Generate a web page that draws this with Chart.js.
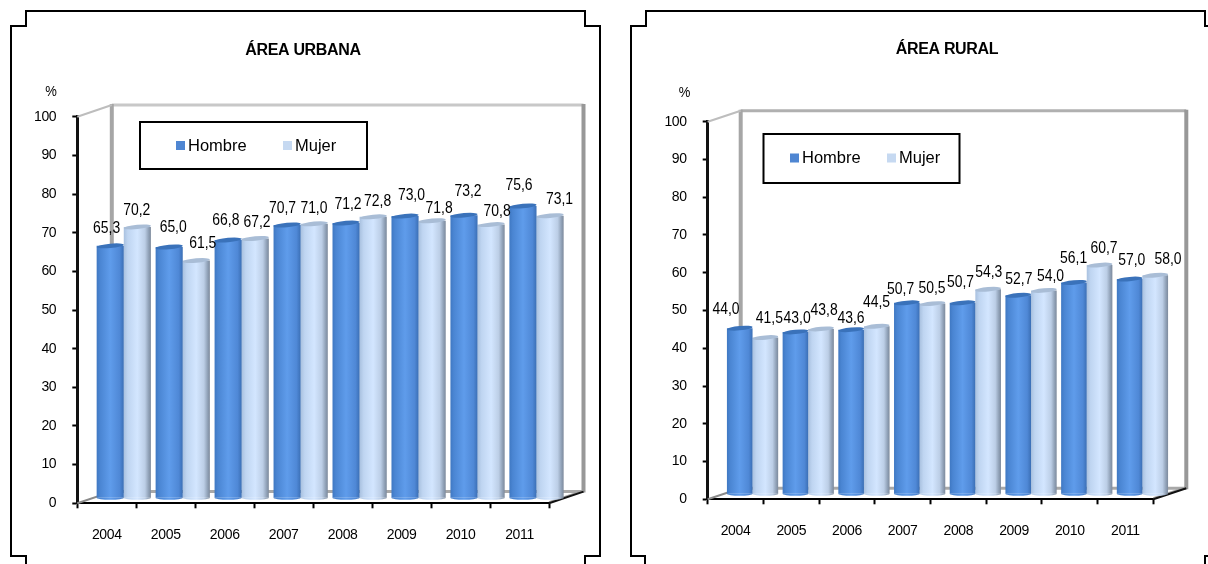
<!DOCTYPE html>
<html>
<head>
<meta charset="utf-8">
<script src="https://cdn.jsdelivr.net/npm/chart.js@4"></script>
<style>
html,body{margin:0;padding:0;background:#fff;width:1208px;height:564px;overflow:hidden}
#frames{position:absolute;left:0;top:0}
canvas{position:absolute;top:0}
</style>
</head>
<body>
<svg id="frames" width="1208" height="564" fill="none" stroke="#000" stroke-width="2">
  <path d="M26 564V556H11V26H26V11H585V26H600V556H585V564"/>
  <path d="M645 564V556H631V26H646V11H1205V26H1208M1208 556H1205V564"/>
</svg>
<canvas id="urbana" width="620" height="564" style="left:0;width:620px;height:564px"></canvas>
<canvas id="rural" width="588" height="564" style="left:620px;width:588px;height:564px"></canvas>
<script>
// ---- data ----
const years = ['2004','2005','2006','2007','2008','2009','2010','2011'];
const hombreUrbana = [65.3,65.0,66.8,70.7,71.2,73.0,73.2,75.6];
const mujerUrbana  = [70.2,61.5,67.2,71.0,72.8,71.8,70.8,73.1];
const hombreRural  = [44.0,43.0,43.6,50.7,50.7,52.7,56.1,57.0];
const mujerRural   = [41.5,43.8,44.5,50.5,54.3,54.0,60.7,58.0];
const seriesNames  = ['Hombre','Mujer'];
const titleUrbana  = 'ÁREA URBANA';
const titleRural   = 'ÁREA RURAL';
const unitLabel    = '%';

// ---- label placement, as hand-placed in the original ----
const nudgeUrbana = {
  dx:[[-3.6,4,-2.3,-4.6,2,6.4,4,-4],[-.6,6.4,1.7,-.3,4.4,7,6,9.4]],
  dy:[[-21.8,-24.7,-24,-21.7,-23.7,-25.1,-28.6,-25],[-21.2,-22.2,-21.2,-20.5,-20.2,-17.4,-17.9,-20.7]]
};
const nudgeRural = {
  dx:[[-13.7,1.7,-.2,-6.2,-2.1,.6,-.3,2.1],[4,3.1,-.2,-.4,.6,6.7,4.4,12.8]],
  dy:[[-23.2,-18.7,-16.4,-17.9,-25.2,-21,-29.2,-23.3],[-24.3,-23.2,-29,-20.3,-21.6,-18.7,-21.8,-21]]
};

const FONT = '"Liberation Sans", Arial, sans-serif';
const BLUE = '#4f86d2', PALE = '#c6d9f1';

function barGradient(ctx, x0, x1, stops){
  const g = ctx.createLinearGradient(x0,0,x1,0);
  stops.forEach(s=>g.addColorStop(s[0],s[1]));
  return g;
}
const maleStops = [[0,'#3f78c2'],[.12,'#4a85d2'],[.5,'#5f9ceb'],[.85,'#4f88d6'],[1,'#3b6fb5']];
const femaleStops = [[0,'#a9c1df'],[.15,'#bfd5f1'],[.5,'#d3e6ff'],[.78,'#bccee6'],[.92,'#8fa0b6'],[1,'#7d8a9c']];

const look = {
  id:'look',
  beforeDraw(chart){
    chart.ctx.letterSpacing='-0.35px';
  },
  afterLayout(chart,_,o){
    const t = chart.titleBlock;
    t.left = o.titleX-150; t.right = o.titleX+150;
  },
  beforeDatasetsDraw(chart,_,o){
    const {ctx,chartArea:a} = chart;
    const L=a.left,R=a.right,T=a.top,B=a.bottom, bl=L+o.depthX, br=R+o.depthX, bt=T-o.depthY, bb=B-o.depthY;
    ctx.save();
    ctx.lineCap='butt';
    const seg=(x0,y0,x1,y1,c,w)=>{ctx.strokeStyle=c;ctx.lineWidth=w;ctx.beginPath();ctx.moveTo(x0,y0);ctx.lineTo(x1,y1);ctx.stroke();};
    seg(bl,bb,br,bb,'#a8a8a8',3);
    seg(bl,bt,br,bt,o.wallTop,3);
    seg(bl,bt-1,bl,bb,'#a6a6a6',4);
    seg(br,bt-1,br,bb+1,'#989898',4);
    seg(L,T,bl,bt,'#bdbdbd',2);
    seg(L,B,bl,bb,'#8a8a8a',2);
    seg(R,B-1,br,bb-1,'#a0a0a0',2);
    seg(R,B,br,bb,'#111',2);
    ctx.restore();
    ctx.save();
    ctx.translate(o.shiftX,-o.shiftY);
    chart.data.datasets.forEach((ds,d)=>{
      chart.getDatasetMeta(d).data.forEach(e=>{
        const g = barGradient(ctx,e.x-e.width/2,e.x+e.width/2,d===0?maleStops:femaleStops);
        e.options = Object.assign({},e.options,{backgroundColor:g});
      });
    });
  },
  afterDatasetDraw(chart,args,o){
    const {ctx} = chart, d=args.index;
    chart.getDatasetMeta(d).data.forEach(e=>{
      const rx=e.width/2;
      ctx.save();
      ctx.fillStyle = barGradient(ctx,e.x-rx,e.x+rx,d===0?maleStops:femaleStops);
      ctx.beginPath();ctx.ellipse(e.x,e.base,rx,2,0,0,Math.PI);ctx.fill();
      ctx.fillStyle = d===0?'#3a72ba':'#a9bdd6';
      ctx.beginPath();ctx.ellipse(e.x,e.y,rx,2.2,-0.09,0,Math.PI*2);ctx.fill();
      ctx.restore();
    });
  },
  afterDatasetsDraw(chart,_,o){
    const {ctx,scales:{y}} = chart;
    ctx.restore();
    ctx.save();
    ctx.letterSpacing='0px';
    ctx.fillStyle='#000';
    ctx.textAlign='center';ctx.textBaseline='middle';
    ctx.font='16px '+FONT;
    chart.data.datasets.forEach((ds,d)=>{
      const m=chart.getDatasetMeta(d);
      ds.data.forEach((v,i)=>{
        const txt=v.toFixed(1).replace('.',',');
        ctx.save();
        ctx.translate(m.data[i].x+o.shiftX+o.nudge.dx[d][i],y.getPixelForValue(v)+o.nudge.dy[d][i]);
        ctx.scale(.87,1);
        ctx.fillText(txt,0,0);
        ctx.restore();
      });
    });
    // unit
    ctx.save();
    ctx.translate(o.unitX,o.unitY);ctx.scale(.87,1);
    ctx.font='15px '+FONT;
    ctx.fillText(unitLabel,0,0);
    ctx.restore();
    // legend
    const b=o.legend;
    ctx.fillStyle='#fff';ctx.strokeStyle='#000';ctx.lineWidth=2;
    ctx.fillRect(b.x,b.y,b.w,b.h);ctx.strokeRect(b.x,b.y,b.w,b.h);
    ctx.font='16.5px '+FONT;ctx.textAlign='left';
    chart.data.datasets.forEach((ds,d)=>{
      ctx.fillStyle=d===0?BLUE:PALE;
      ctx.fillRect(b.sw[d],b.cy-4.5,9,9);
      ctx.fillStyle='#000';
      ctx.fillText(ds.label,b.sw[d]+12,b.cy+0.5);
    });
    ctx.restore();
  }
};

function makeChart(id,title,hombre,mujer,cfg){
  return new Chart(document.getElementById(id),{
    type:'bar',
    data:{labels:years,datasets:[
      {label:seriesNames[0],data:hombre,backgroundColor:BLUE,borderWidth:0,clip:false,categoryPercentage:.92,barPercentage:1},
      {label:seriesNames[1],data:mujer,backgroundColor:PALE,borderWidth:0,clip:false,categoryPercentage:.92,barPercentage:1}
    ]},
    plugins:[look],
    options:{
      responsive:false,animation:false,devicePixelRatio:1,events:[],
      layout:{padding:{left:0,top:0,right:cfg.padRight,bottom:cfg.padBottom}},
      plugins:{
        legend:{display:false},tooltip:{enabled:false},
        title:{display:true,text:title,color:'#000',font:{family:FONT,size:cfg.titleSize,weight:'bold',lineHeight:1.2},
               padding:{top:cfg.titleTop,bottom:cfg.titleBottom}},
        look:cfg.look
      },
      scales:{
        x:{
          grid:{drawOnChartArea:false,offset:true,tickColor:'#000',tickWidth:2,tickLength:5},
          border:{color:'#000',width:2},
          ticks:{color:'#000',padding:18,maxRotation:0,autoSkip:false,font:{family:FONT,size:14}},
          afterFit(s){s.height=40;}
        },
        y:{
          min:0,max:100,
          grid:{drawOnChartArea:false,tickColor:'#000',tickWidth:2,tickLength:5},
          border:{color:'#111',width:3},
          ticks:{color:'#000',stepSize:10,padding:16,font:{family:FONT,size:14}},
          afterFit(s){s.width=cfg.axisWidth;}
        }
      }
    }
  });
}

makeChart('urbana',titleUrbana,hombreUrbana,mujerUrbana,{
  padRight:71,padBottom:20.7,axisWidth:77.3,titleSize:16,titleTop:40.5,titleBottom:57,
  look:{titleX:303,depthX:34.5,depthY:11.7,shiftX:17,shiftY:5,wallTop:'#c8c8c8',nudge:nudgeUrbana,unitX:51,unitY:91.7,
        legend:{x:140,y:122,w:227,h:47,sw:[176,283],cy:145.5}}
});
makeChart('rural',titleRural,hombreRural,mujerRural,{
  padRight:54.7,padBottom:24.7,axisWidth:87.7,titleSize:16,titleTop:39.8,titleBottom:62.7,
  look:{titleX:327,depthX:33,depthY:11,shiftX:17,shiftY:5,wallTop:'#b0b0b0',nudge:nudgeRural,unitX:64.5,unitY:93.3,
        legend:{x:143.5,y:134,w:196,h:49,sw:[170,267],cy:158}}
});
</script>
</body>
</html>
